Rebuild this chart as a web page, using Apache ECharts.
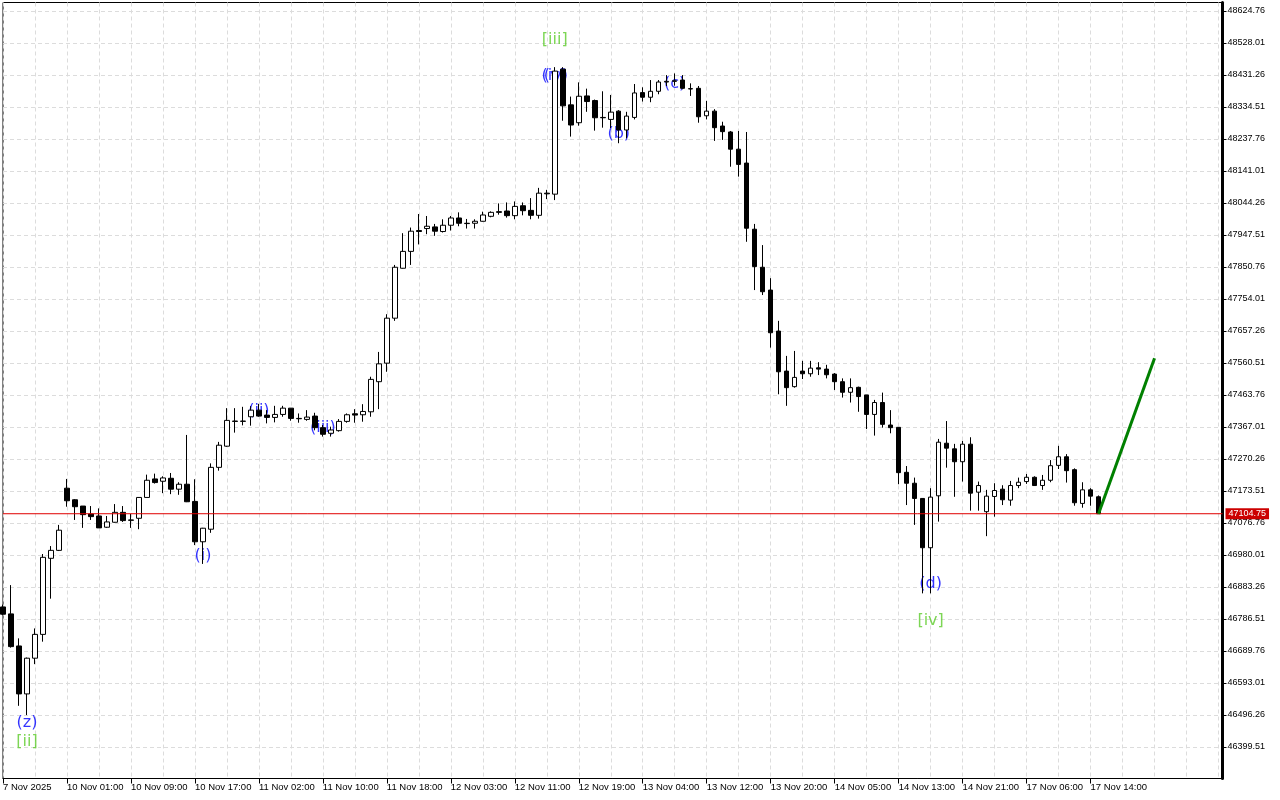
<!DOCTYPE html>
<html>
<head>
<meta charset="utf-8">
<script src="https://cdn.jsdelivr.net/npm/echarts@6/dist/echarts.min.js"></script>
<style>
html,body{margin:0;padding:0;background:#fff;}
#chart{width:1280px;height:800px;}
</style>
</head>
<body>
<div id="chart"></div>
<script>
// ---- data ----
const timeLabels = ["7 Nov 2025","10 Nov 01:00","10 Nov 09:00","10 Nov 17:00","11 Nov 02:00","11 Nov 10:00","11 Nov 18:00","12 Nov 03:00","12 Nov 11:00","12 Nov 19:00","13 Nov 04:00","13 Nov 12:00","13 Nov 20:00","14 Nov 05:00","14 Nov 13:00","14 Nov 21:00","17 Nov 06:00","17 Nov 14:00"];
const barsPerLabel = 8;

const opens = [46823,46802,46705,46560,46668,46740,46970,46994,47182,47147,47128,47104,47098,47064,47079,47109,47086,47091,47154,47210,
47203,47212,47179,47194,47142,47020,47058,47245,47309,47385,47384,47398,47418,47403,47396,47405,47424,47393,47390,47400,
47365,47348,47356,47384,47407,47404,47413,47504,47560,47696,47847,47898,47961,47967,47972,47958,47977,47999,47983,47983,
47989,48004,48018,48020,48006,48036,48022,48007,48074,48071,48449,48341,48287,48368,48354,48303,48297,48322,48265,48303,
48378,48364,48382,48410,48412,48416,48390,48391,48308,48322,48277,48259,48207,48165,47965,47850,47781,47657,47536,47489,
47536,47528,47546,47542,47527,47504,47472,47487,47464,47405,47441,47373,47366,47230,47197,47151,47002,47159,47318,47301,
47262,47315,47170,47111,47157,47179,47146,47190,47202,47215,47190,47206,47251,47277,47238,47136,47177,47156];
const highs = [46830,46889,46728,46670,46758,46983,47007,47071,47210,47149,47128,47128,47121,47098,47134,47128,47104,47155,47223,47226,
47218,47228,47200,47343,47209,47062,47257,47322,47424,47424,47428,47430,47437,47418,47431,47431,47424,47408,47418,47410,
47373,47368,47391,47408,47421,47436,47519,47594,47708,47857,47953,47970,48011,48005,47981,47995,48005,48016,47996,47995,
48018,48019,48043,48046,48049,48046,48059,48090,48084,48455,48455,48366,48409,48390,48357,48382,48371,48325,48320,48404,
48394,48416,48416,48431,48436,48431,48406,48398,48353,48328,48290,48262,48262,48259,47981,47917,47817,47688,47582,47597,
47567,47567,47563,47555,47530,47514,47514,47489,47464,47449,47471,47418,47367,47249,47214,47152,47182,47331,47385,47316,
47325,47336,47202,47177,47197,47191,47204,47214,47225,47218,47222,47267,47310,47285,47242,47200,47182,47160];
const lows = [46798,46700,46524,46496,46650,46718,46848,46992,47126,47086,47062,47086,47062,47062,47078,47080,47062,47058,47154,47196,
47167,47164,47162,47140,47010,46953,47047,47235,47307,47350,47372,47371,47398,47378,47381,47398,47386,47380,47386,47357,
47338,47338,47353,47380,47380,47383,47398,47421,47534,47688,47846,47857,47919,47950,47945,47955,47961,47974,47967,47967,
47988,48001,48009,48000,47995,48007,47995,47997,48056,48053,48293,48245,48278,48320,48263,48272,48271,48225,48240,48297,
48351,48349,48373,48398,48399,48388,48368,48287,48297,48232,48235,48154,48124,47927,47781,47766,47607,47466,47431,47486,
47512,47519,47524,47514,47479,47456,47441,47413,47361,47341,47365,47348,47194,47131,47071,46864,46864,47081,47244,47156,
47202,47114,47114,47037,47096,47131,47129,47182,47195,47189,47177,47200,47240,47199,47129,47123,47129,47104.75];
const closes = [46801,46703,46560,46668,46740,46973,46994,47055,47144,47126,47102,47096,47062,47080,47109,47084,47085,47154,47206,47199,
47213,47179,47194,47141,47020,47061,47245,47312,47387,47384,47385,47418,47400,47396,47405,47424,47393,47392,47397,47365,
47345,47358,47384,47404,47403,47414,47511,47558,47696,47850,47898,47959,47958,47974,47959,47977,47999,47983,47982,47989,
48008,48016,48016,48006,48034,48021,48007,48074,48072,48443,48338,48280,48367,48351,48302,48302,48319,48265,48307,48377,
48364,48382,48410,48412,48414,48391,48389,48305,48322,48272,48260,48207,48161,47968,47852,47776,47652,47534,47486,47517,
47528,47545,47542,47525,47504,47472,47486,47459,47405,47441,47375,47365,47229,47197,47151,47002,47155,47321,47303,47262,
47315,47167,47190,47158,47175,47147,47190,47200,47215,47190,47206,47250,47277,47235,47138,47177,47158,47104.75];

const yTicks = [46399.51,46496.26,46593.01,46689.76,46786.51,46883.26,46980.01,47076.76,47173.51,47270.26,47367.01,47463.76,
47560.51,47657.26,47754.01,47850.76,47947.51,48044.26,48141.01,48237.76,48334.51,48431.26,48528.01,48624.76];

const lastPrice = 47104.75;
const projIdx = [137, 144];
const projPrice = [47104.75, 47575];

const waveText   = ['(z)','[ii]','(i)','(ii)','(iii)','[iii]','(iv)','(v)','(b)','(c)','(d)','[iv]'];
const waveIdx    = [3, 3, 25, 32, 40, 69, 69, 69, 77, 84, 116, 116];
const wavePrice  = [46472, 46415, 46977, 47415, 47364, 48539, 48428, 48428, 48253, 48404, 46892, 46781];
const waveDegree = ['minor','major','minor','minor','minor','major','minor','minor','minor','minor','minor','major'];

// ---- build ----
const X_MIN = 0, X_MAX = 152.5;
const candleData = opens.map((o, i) => [i, o, closes[i], lows[i], highs[i]]);
const projData = projIdx.map((x, i) => [x, projPrice[i]]);
const priceLineData = [[X_MIN, lastPrice], [X_MAX, lastPrice]];
const labelPos = timeLabels.map((_, k) => k * barsPerLabel);
const degColor = { minor: '#0000ff', major: '#5ccc2a' };
const waveData = waveText.map((t, i) => ({
  value: [waveIdx[i], wavePrice[i]],
  name: t,
  label: { color: degColor[waveDegree[i]] }
}));

const dash = { color: '#dcdcdc', width: 1, type: [4, 3] };
const chart = echarts.init(document.getElementById('chart'), null, { renderer: 'canvas' });
chart.setOption({
  animation: false,
  backgroundColor: '#ffffff',
  grid: { left: 2.5, right: 57.5, top: 2.5, bottom: 21.5, show: true, borderColor: '#000', borderWidth: 1, containLabel: false },
  xAxis: [
    {
      type: 'value', min: X_MIN, max: X_MAX, interval: 8,
      axisLine: { show: false }, axisTick: { show: false }, axisLabel: { show: false },
      splitLine: { show: true, lineStyle: dash },
      minorTick: { show: false, splitNumber: 2 },
      minorSplitLine: { show: true, lineStyle: dash }
    },
    {
      type: 'value', min: X_MIN, max: X_MAX, position: 'bottom',
      axisLine: { show: true, onZero: false, lineStyle: { color: '#000', width: 1 } },
      axisTick: { show: true, length: 5, customValues: labelPos, lineStyle: { color: '#000' } },
      axisLabel: {
        customValues: labelPos,
        color: '#000', fontSize: 9.5, fontFamily: 'Liberation Sans', align: 'left', margin: 4,
        hideOverlap: false,
        formatter: v => timeLabels[Math.round(v / barsPerLabel)]
      },
      splitLine: { show: false }
    }
  ],
  yAxis: {
    type: 'value', position: 'right', min: 46304.272, max: 48650.459, scale: true,
    axisLine: { show: true, onZero: false, lineStyle: { color: '#000', width: 3 } },
    axisTick: { show: true, length: 4, customValues: yTicks, lineStyle: { color: '#000' } },
    axisLabel: { customValues: yTicks, color: '#000', fontSize: 9, fontFamily: 'Liberation Sans', margin: 5,
      formatter: v => v.toFixed(2) },
    splitLine: { show: true, lineStyle: dash }
  },
  series: [
    {
      type: 'scatter', z: 1, symbolSize: 1, silent: true, xAxisIndex: 0,
      itemStyle: { color: 'rgba(0,0,0,0)' },
      label: { show: true, position: 'inside', formatter: '{b}', fontSize: 16, fontFamily: 'DejaVu Sans' },
      data: waveData
    },
    {
      type: 'candlestick', z: 2, barWidth: 5, silent: true, xAxisIndex: 0,
      itemStyle: { color: '#ffffff', color0: '#000000', borderColor: '#000000', borderColor0: '#000000', borderWidth: 1 },
      data: candleData
    },
    {
      type: 'line', z: 3, symbol: 'none', silent: true, xAxisIndex: 0, clip: false,
      lineStyle: { color: '#e00000', width: 1 },
      itemStyle: { color: '#e00000' },
      data: priceLineData,
      endLabel: {
        show: true, distance: 3, formatter: () => lastPrice.toFixed(2),
        backgroundColor: '#cc0000', color: '#ffffff', fontSize: 9, fontFamily: 'Liberation Sans',
        padding: [1, 3, 0, 3], lineHeight: 10
      }
    },
    {
      type: 'line', z: 4, symbol: 'none', silent: true, xAxisIndex: 0,
      lineStyle: { color: '#008000', width: 3 },
      itemStyle: { color: '#008000' },
      data: projData
    }
  ]
});
</script>
</body>
</html>
